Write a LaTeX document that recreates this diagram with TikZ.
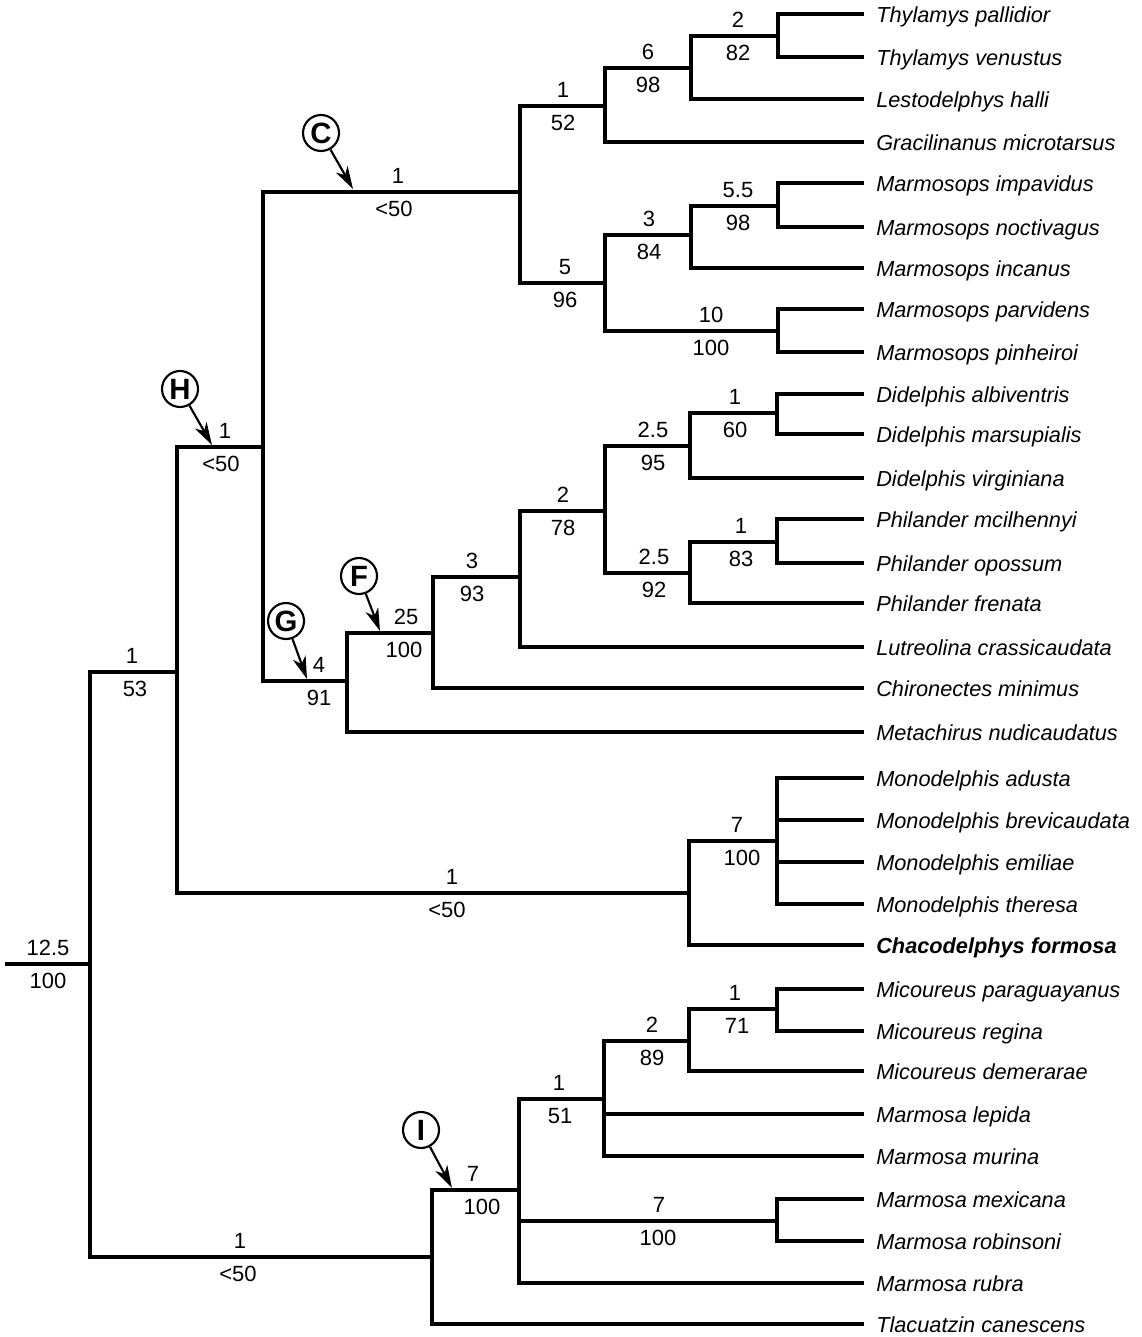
\documentclass[tikz,border=0pt]{standalone}
\usepackage{fontspec}
\setmainfont{Liberation Sans}
\usetikzlibrary{arrows.meta}

\begin{document}
\begin{tikzpicture}[x=0.75pt,y=-0.75pt,
    branch/.style={line width=2.5pt},
    taxon/.style={anchor=west,inner ysep=0pt,inner xsep=9pt,text height=13.5pt,text depth=0.5pt,
        font=\fontsize{16.3}{19}\selectfont\itshape},
    lbl/.style={inner sep=0pt,font=\fontsize{16.5}{19}\selectfont},
    clade/.style={circle,draw,line width=1.6pt,minimum size=27pt,inner sep=0pt,
        font=\fontsize{22}{24}\selectfont\bfseries},
    pointer/.style={line width=1.6pt,-{Stealth[length=17pt,width=10pt,inset=5pt]}}]
\useasboundingbox (0,0) rectangle (1141,1337);
% internal nodes
\coordinate (r0) at (5,964);
\coordinate (r) at (90,964);
\coordinate (n53) at (177,672);
\coordinate (nlow) at (432,1257);
\coordinate (nH) at (263,447);
\coordinate (nMono) at (689,893);
\coordinate (nC) at (520,192);
\coordinate (nG) at (347,681);
\coordinate (nThy) at (605,106);
\coordinate (n6) at (691,68);
\coordinate (n2) at (778,36);
\coordinate (nMs) at (605,283);
\coordinate (n3) at (691,235);
\coordinate (n55) at (778,206);
\coordinate (n10) at (778,331);
\coordinate (nF) at (433,633);
\coordinate (n93) at (520,577);
\coordinate (n78) at (605,511);
\coordinate (n95) at (690,446);
\coordinate (n60) at (777,413);
\coordinate (n92) at (690,573);
\coordinate (n83) at (777,542);
\coordinate (n7m) at (777,841);
\coordinate (nI) at (519,1190);
\coordinate (n51) at (604,1099);
\coordinate (n89) at (689,1041);
\coordinate (n71) at (777,1009);
\coordinate (n7b) at (777,1221);
% taxa
\foreach \nm/\yy/\txt in {pal/14/Thylamys pallidior, ven/57/Thylamys venustus,
        hal/99/Lestodelphys halli, grac/142/Gracilinanus microtarsus,
        imp/183/Marmosops impavidus, noc/227/Marmosops noctivagus,
        inc/268/Marmosops incanus, par/309/Marmosops parvidens,
        pin/352/Marmosops pinheiroi, alb/394/Didelphis albiventris,
        mar/434/Didelphis marsupialis, vir/478/Didelphis virginiana,
        mci/519/Philander mcilhennyi, opo/563/Philander opossum,
        fre/603/Philander frenata, lut/647/Lutreolina crassicaudata,
        chi/688/Chironectes minimus, met/732/Metachirus nudicaudatus,
        adu/778/Monodelphis adusta, bre/820/Monodelphis brevicaudata,
        emi/862/Monodelphis emiliae, the/904/Monodelphis theresa,
        mpa/989/Micoureus paraguayanus, reg/1031/Micoureus regina,
        dem/1071/Micoureus demerarae, lep/1114/Marmosa lepida,
        mur/1156/Marmosa murina, mex/1199/Marmosa mexicana,
        rob/1241/Marmosa robinsoni, rub/1283/Marmosa rubra,
        tla/1324/Tlacuatzin canescens}
    \node[taxon] (\nm) at (864,\yy) {\txt};
\node[taxon,font=\fontsize{16.3}{19}\selectfont\itshape\bfseries] (cha) at (864,945) {Chacodelphys formosa};
% branches
\draw[branch] (r0) -- (r);
\foreach \p/\c in {r/n53, r/nlow, n53/nH, n53/nMono, nH/nC, nH/nG,
        nC/nThy, nC/nMs, nThy/n6, nThy/grac, n6/n2, n6/hal, n2/pal, n2/ven,
        nMs/n3, nMs/n10, n3/n55, n3/inc, n55/imp, n55/noc, n10/par, n10/pin,
        nG/nF, nG/met, nF/n93, nF/chi, n93/n78, n93/lut, n78/n95, n78/n92,
        n95/n60, n95/vir, n60/alb, n60/mar, n92/n83, n92/fre, n83/mci, n83/opo,
        nMono/n7m, nMono/cha, n7m/adu, n7m/bre, n7m/emi, n7m/the,
        nlow/nI, nlow/tla, nI/n51, nI/n7b, nI/rub, n51/n89, n51/lep, n51/mur,
        n89/n71, n89/dem, n71/mpa, n71/reg, n7b/mex, n7b/rob}
    \draw[branch] (\p) |- (\c);
% support values above and below the branches
\foreach \xt/\xb/\yb/\tp/\bt [count=\k] in {48/48/964/12.5/100, 132/135/672/1/53,
        225/221/447/1/<50, 398/394/192/1/<50, 563/563/106/1/52, 648/648/68/6/98,
        738/738/36/2/82, 565/565/283/5/96, 649/649/235/3/84, 738/738/206/5.5/98,
        711/711/331/10/100, 319/319/681/4/91, 406/404/633/25/100, 472/472/577/3/93,
        563/563/511/2/78, 653/653/446/2.5/95, 735/735/413/1/60, 654/654/573/2.5/92,
        741/741/542/1/83, 452/447/893/1/<50, 737/742/841/7/100, 240/238/1257/1/<50,
        473/482/1190/7/100, 559/560/1099/1/51, 652/652/1041/2/89, 735/737/1009/1/71,
        659/658/1221/7/100}
    {
    \node[lbl] (up\k) at (\xt,\yb-16) {\tp};
    \node[lbl] (dn\k) at (\xb,\yb+17) {\bt};
    }
% clade markers
\node[clade] (cC) at (321,133) {C};
\node[clade] (cH) at (180,389) {H};
\node[clade] (cG) at (286,621) {G};
\node[clade] (cF) at (359,576) {F};
\node[clade] (cI) at (421,1130) {I};
\coordinate (tC) at (353,189);
\coordinate (tH) at (212,445);
\coordinate (tG) at (307,679);
\coordinate (tF) at (380,631);
\coordinate (tI) at (452,1188);
\foreach \c in {C,H,G,F,I}
    \draw[pointer] (c\c) -- (t\c);
\end{tikzpicture}
\end{document}
